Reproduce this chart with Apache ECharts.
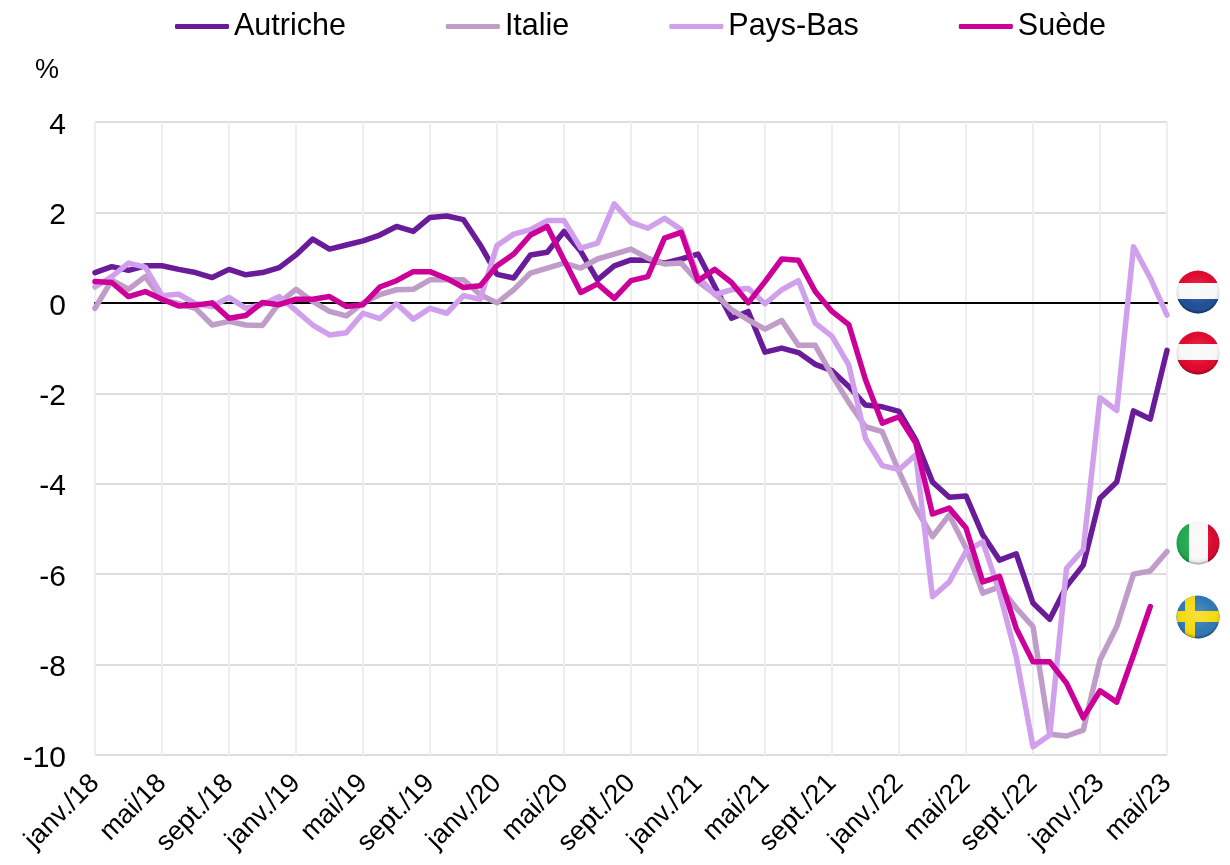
<!DOCTYPE html>
<html>
<head>
<meta charset="utf-8">
<style>html,body{margin:0;padding:0;background:#fff}#c{width:1230px;height:865px}</style>
<script src="https://cdn.jsdelivr.net/npm/echarts@6/dist/echarts.min.js"></script>
</head>
<body>
<div id="c"></div>
<script>
const months = ['janv.','févr.','mars','avr.','mai','juin','juil.','août','sept.','oct.','nov.','déc.'];
const years = ['18','19','20','21','22','23'];
const lastYearMonths = 5;
const categories = [];
years.forEach((y, yi) => months.forEach((m, mi) => {
  if (yi < years.length - 1 || mi < lastYearMonths) categories.push(m + '/' + y);
}));

const autriche = [0.67,0.8,0.72,0.82,0.82,0.74,0.67,0.56,0.74,0.62,0.67,0.78,1.06,1.41,1.19,1.28,1.37,1.5,1.69,1.58,
  1.89,1.92,1.84,1.28,0.63,0.55,1.06,1.12,1.58,1.14,0.51,0.82,0.95,0.94,0.88,0.97,1.08,0.36,-0.34,-0.19,
  -1.09,-1.0,-1.1,-1.36,-1.5,-1.85,-2.26,-2.3,-2.4,-3.03,-3.96,-4.3,-4.27,-5.13,-5.69,-5.55,-6.64,-7.0,-6.27,-5.8,
  -4.32,-3.96,-2.39,-2.57,-1.05];
const italie = [-0.12,0.5,0.3,0.58,0.07,-0.02,-0.12,-0.49,-0.41,-0.49,-0.5,0,0.3,0.03,-0.19,-0.29,0,0.18,0.29,0.3,
  0.51,0.51,0.51,0.18,0,0.29,0.66,0.77,0.88,0.77,0.97,1.08,1.19,0.99,0.86,0.88,0.47,0.2,-0.15,-0.38,
  -0.58,-0.39,-0.94,-0.94,-1.6,-2.2,-2.74,-2.85,-3.73,-4.54,-5.17,-4.69,-5.42,-6.42,-6.28,-6.75,-7.16,-9.54,-9.58,-9.45,
  -7.9,-7.16,-6.0,-5.93,-5.5];
const paysBas = [0.35,0.58,0.88,0.79,0.16,0.19,-0.02,-0.08,0.12,-0.12,-0.04,0.14,-0.17,-0.49,-0.71,-0.66,-0.23,-0.35,-0.02,-0.36,
  -0.12,-0.23,0.16,0.08,1.27,1.52,1.62,1.82,1.82,1.21,1.32,2.19,1.78,1.65,1.87,1.62,0.58,0.18,0.29,0.32,
  -0.02,0.29,0.49,-0.45,-0.74,-1.37,-3.0,-3.6,-3.69,-3.36,-6.5,-6.17,-5.5,-5.28,-6.4,-7.83,-9.82,-9.56,-5.87,-5.46,
  -2.1,-2.38,1.24,0.55,-0.27];
const suede = [0.47,0.45,0.14,0.25,0.08,-0.07,-0.05,0,-0.34,-0.28,0.01,-0.04,0.08,0.08,0.14,-0.08,-0.04,0.35,0.49,0.69,
  0.69,0.54,0.34,0.38,0.82,1.08,1.5,1.69,0.95,0.23,0.42,0.1,0.49,0.58,1.43,1.56,0.49,0.74,0.45,0,
  0.47,0.97,0.94,0.25,-0.19,-0.48,-1.7,-2.66,-2.52,-3.1,-4.67,-4.54,-4.98,-6.17,-6.05,-7.2,-7.94,-7.94,-8.41,-9.18,
  -8.58,-8.83,-7.79,-6.72,null];

const seriesNames = ['Autriche','Italie','Pays-Bas','Suède'];
const seriesData = [autriche, italie, paysBas, suede];
const seriesColors = ['#6a1b9a','#c09cc8','#d0a0ec','#cc0099'];
const FONT = '"Liberation Sans",Arial,sans-serif';

function disc(cx, cy, fill) { return {type:'circle', silent:true, shape:{cx, cy, r:21.5}, style:{fill}}; }
function hard(x2, y2, stops) {
  const cs = [];
  stops.forEach(([a,b,c]) => { cs.push({offset:a,color:c}); cs.push({offset:b,color:c}); });
  return {type:'linear', x:0, y:0, x2, y2, colorStops:cs};
}
const shade = {type:'radial', x:0.5, y:0.45, r:0.56, colorStops:[
  {offset:0,color:'rgba(255,255,255,0.18)'},{offset:0.7,color:'rgba(255,255,255,0)'},{offset:0.88,color:'rgba(0,0,0,0.08)'},{offset:1,color:'rgba(0,0,0,0.45)'}]};
const clear = 'rgba(0,0,0,0)';
const flags = [
  disc(1198,292,hard(0,1,[[0,0.29,'#e0082c'],[0.29,0.67,'#f8f8f8'],[0.67,1,'#1f4f96']])), disc(1198,292,shade),
  disc(1198,353,hard(0,1,[[0,0.29,'#e0082c'],[0.29,0.67,'#f8f8f8'],[0.67,1,'#e0082c']])), disc(1198,353,shade),
  disc(1198,543,hard(1,0,[[0,0.3,'#22a84f'],[0.3,0.73,'#f8f8f8'],[0.73,1,'#d6082e']])), disc(1198,543,shade),
  disc(1198,617,'#2f78b4'),
  disc(1198,617,hard(1,0,[[0,0.19,clear],[0.19,0.42,'#f5d90f'],[0.42,1,clear]])),
  disc(1198,617,hard(0,1,[[0,0.37,clear],[0.37,0.62,'#f5d90f'],[0.62,1,clear]])),
  disc(1198,617,shade)
];

const chart = echarts.init(document.getElementById('c'), null, {renderer:'canvas'});
chart.setOption({
  animation:false,
  backgroundColor:'#fff',
  legend:{
    left:175, top:11, icon:'roundRect', itemWidth:54, itemHeight:5, itemGap:100,
    padding:0,
    data:seriesNames,
    textStyle:{fontFamily:FONT, fontSize:30.5, color:'#000'}
  },
  grid:{left:95, right:63, top:122, height:633, containLabel:false},
  xAxis:[{
    type:'category', data:categories, boundaryGap:false, position:'bottom',
    axisLine:{show:false, onZero:false}, axisTick:{show:false},
    axisLabel:{interval:3, rotate:45, margin:24, fontFamily:FONT, fontSize:27, color:'#000', showMaxLabel:true},
    splitLine:{show:true, interval:3, lineStyle:{color:'#eeeeee', width:2}}
  },{
    type:'category', data:categories, boundaryGap:false, position:'bottom',
    axisLine:{show:true, onZero:true, lineStyle:{color:'#000', width:2}},
    axisTick:{show:false}, axisLabel:{show:false}, splitLine:{show:false}
  }],
  yAxis:{
    type:'value', min:-10, max:4, interval:2,
    name:'%', nameLocation:'end', nameGap:38,
    nameTextStyle:{fontFamily:FONT, fontSize:27, color:'#000', align:'center', padding:[0,96,0,0]},
    axisLine:{show:false}, axisTick:{show:false},
    axisLabel:{margin:29, color:'#000', formatter:'{t|{value}}',
      rich:{t:{fontFamily:FONT, fontSize:30, color:'#000', padding:[7,0,0,0]}}},
    splitLine:{lineStyle:{color:'#dddddd', width:2}}
  },
  series: seriesNames.map((name, i) => ({
    name, type:'line', xAxisIndex:0, data:seriesData[i], symbol:'none', smooth:false,
    connectNulls:false, color:seriesColors[i],
    lineStyle:{color:seriesColors[i], width:5.5, cap:'round', join:'round'}
  })),
  graphic: flags
});
</script>
</body>
</html>
